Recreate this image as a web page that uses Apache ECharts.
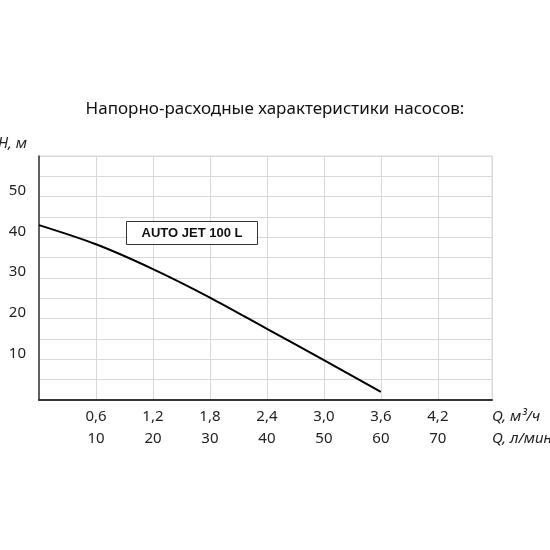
<!DOCTYPE html>
<html><head><meta charset="utf-8">
<script src="https://cdn.jsdelivr.net/npm/echarts@6/dist/echarts.min.js"></script>
<style>html,body{margin:0;padding:0;background:#fff}#c{width:550px;height:550px}</style>
</head><body><div id="c"></div>
<script>
var flowLmin = [0, 10, 20, 30, 40, 50, 60];
var headM = [43.0, 38.3, 32.2, 25.2, 17.5, 9.8, 2.0];
var xTicksLmin = [10, 20, 30, 40, 50, 60, 70];
var xTicksM3h = ['0,6', '1,2', '1,8', '2,4', '3,0', '3,6', '4,2'];
var yTicks = [10, 20, 30, 40, 50];
var seriesName = 'AUTO JET 100 L';
var titleText = 'Напорно-расходные характеристики насосов:';

var FONT = 'Noto Sans';
var chart = echarts.init(document.getElementById('c'), null, {renderer: 'canvas'});
chart.setOption({
  animation: false,
  backgroundColor: '#fff',
  title: {
    text: titleText, left: 'center', top: 96,
    textStyle: {fontFamily: FONT, fontSize: 17, fontWeight: 'normal', color: '#111'}
  },
  grid: {left: 39, top: 156, right: 58, bottom: 150, show: true, borderColor: '#d9d9d9', borderWidth: 1,
    containLabel: false, outerBoundsMode: 'none'},
  xAxis: {
    type: 'value', min: 0, max: 79.5, interval: 10,
    axisLine: {show: true, lineStyle: {color: '#333', width: 2}},
    axisTick: {show: false},
    splitLine: {show: true, lineStyle: {color: '#d9d9d9', width: 1}},
    axisLabel: {
      showMinLabel: false, showMaxLabel: false, margin: 6,
      fontFamily: FONT, fontSize: 15, color: '#222', lineHeight: 22,
      formatter: function (v) {
        var i = xTicksLmin.indexOf(v);
        return i < 0 ? '' : xTicksM3h[i] + '\n' + xTicksLmin[i];
      }
    },
    name: 'Q, м³/ч\nQ, л/мин', nameLocation: 'end', nameGap: 0,
    nameTextStyle: {fontFamily: FONT, fontSize: 15, fontStyle: 'italic', color: '#222', lineHeight: 22,
      align: 'left', verticalAlign: 'top', padding: [6, 0, 0, 0]}
  },
  yAxis: {
    type: 'value', min: 0, max: 60, interval: 5,
    axisLine: {show: true, lineStyle: {color: '#333', width: 1.5}},
    axisTick: {show: false},
    splitLine: {show: true, lineStyle: {color: '#d9d9d9', width: 1}},
    axisLabel: {
      margin: 13, fontFamily: FONT, fontSize: 15, color: '#222', verticalAlign: 'bottom', lineHeight: 12,
      formatter: function (v) { return yTicks.indexOf(v) >= 0 ? String(v) : ''; }
    },
    name: 'Н, м', nameLocation: 'end', nameGap: 5,
    nameTextStyle: {fontFamily: FONT, fontSize: 15, fontStyle: 'italic', color: '#222', align: 'right', padding: [0, 12, 0, 0]}
  },
  series: [{
    name: seriesName, type: 'line', smooth: 0.3, symbol: 'none',
    lineStyle: {color: '#000', width: 2},
    data: flowLmin.map(function (x, i) { return [x, headM[i]]; })
  }],
  graphic: [{
    type: 'group', left: 126, top: 221, z: 100,
    children: [
      {type: 'rect', z: 100, shape: {x: 0, y: 0, width: 131, height: 23}, style: {fill: '#fff', stroke: '#333', lineWidth: 1}},
      {type: 'text', z: 101, x: 65.5, y: 12, style: {text: seriesName, fontFamily: 'Liberation Sans', fontWeight: 'bold', fontSize: 13, fill: '#111', align: 'center', verticalAlign: 'middle'}}
    ]
  }]
});
</script></body></html>
